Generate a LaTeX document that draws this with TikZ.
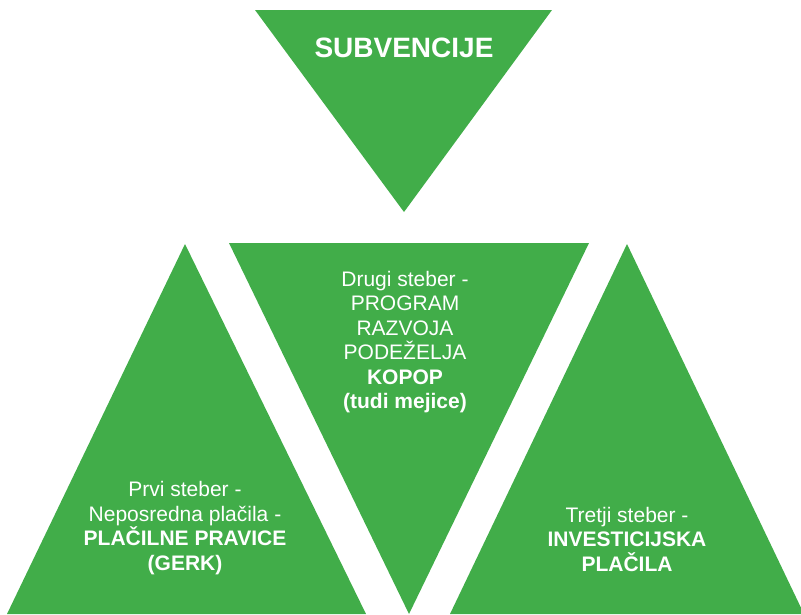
\documentclass[tikz,border=0pt]{standalone}
\usepackage{fontspec}
\setmainfont{Liberation Sans}
\definecolor{tgreen}{RGB}{65,173,73}
\begin{document}
\begin{tikzpicture}[x=1pt,y=-1pt,
  tri/.style={fill=tgreen,draw=none},
  lbl/.style={text=white,align=center,inner sep=0pt,font=\fontsize{21}{24.5}\selectfont}]
\useasboundingbox (0,0) rectangle (801,614);
% top inverted triangle
\fill[tri] (255,10) -- (552,10) -- (404,212) -- cycle;
% left triangle
\fill[tri] (185,244) -- (366,614) -- (7,614) -- cycle;
% middle inverted triangle
\fill[tri] (229,243) -- (589,243) -- (409,614) -- cycle;
% right triangle
\fill[tri] (627,244) -- (804,614) -- (450,614) -- cycle;
\node[text=white,inner sep=0pt,font=\fontsize{28}{32}\selectfont\bfseries] (top) at (404,48) {SUBVENCIJE};
\node[lbl] (mid) at (405,342) {Drugi steber -\\PROGRAM\\RAZVOJA\\PODEŽELJA\\\textbf{KOPOP}\\\textbf{(tudi mejice)}};
\node[lbl] (left) at (185,528) {Prvi steber -\\Neposredna plačila -\\\textbf{PLAČILNE PRAVICE}\\\textbf{(GERK)}};
\node[lbl] (right) at (627,539) {Tretji steber -\\\textbf{INVESTICIJSKA}\\\textbf{PLAČILA}};
\end{tikzpicture}
\end{document}
